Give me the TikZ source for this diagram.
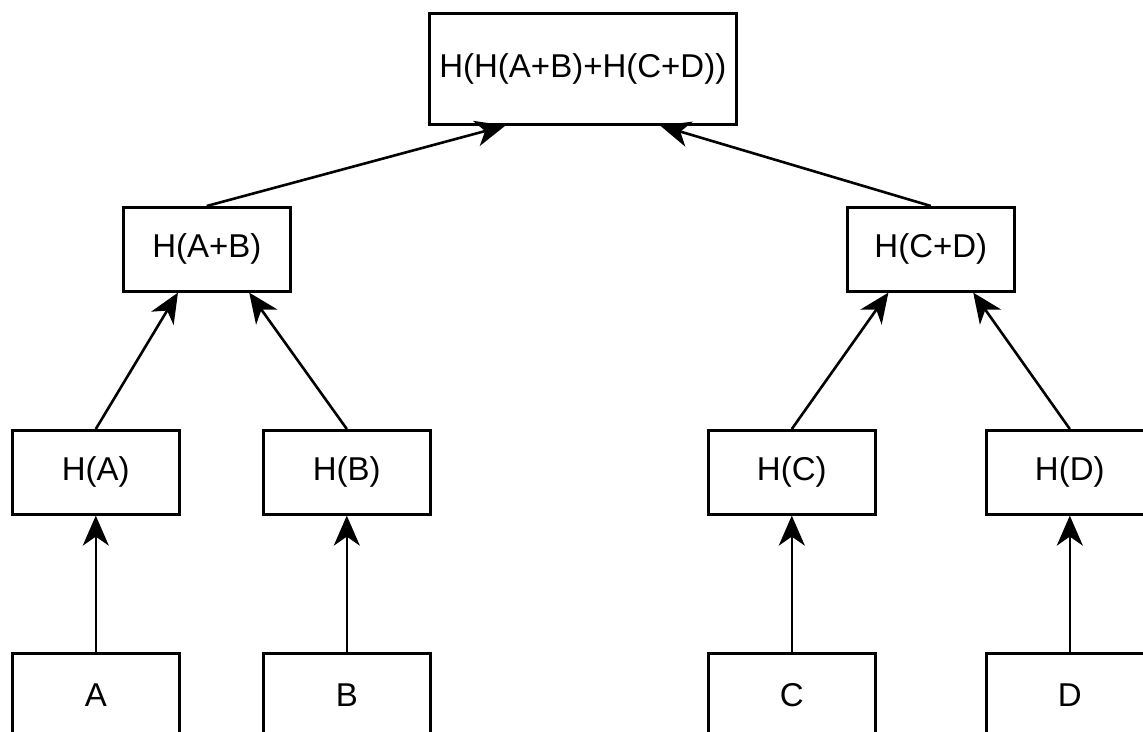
\documentclass[tikz,border=0pt]{standalone}
\usepackage{fontspec}
\setmainfont{Liberation Sans}
\usetikzlibrary{arrows.meta,calc}
\begin{document}
\begin{tikzpicture}[x=1pt,y=-1pt,
  hbox/.style={draw, line width=2.6pt, minimum width=167pt, minimum height=84pt, inner sep=0pt, font=\fontsize{33}{36}\selectfont, anchor=north west},
  conn/.style={line width=2.6pt, -{Stealth[length=30pt,width=26pt,inset=9pt]}}]
\clip (0,0) rectangle (1143,731);
\fill[white] (0,0) rectangle (1143,731);
\node[hbox, minimum width=307pt, minimum height=111pt] (top) at (428,12) {H(H(A+B)+H(C+D))};
\node[hbox] (hab) at (122,206) {H(A+B)};
\node[hbox] (hcd) at (846,206) {H(C+D)};
\node[hbox] (ha) at (11,429) {H(A)};
\node[hbox] (hb) at (262,429) {H(B)};
\node[hbox] (hc) at (707,429) {H(C)};
\node[hbox] (hd) at (985,429) {H(D)};
\node[hbox] (a) at (11,652) {A};
\node[hbox] (b) at (262,652) {B};
\node[hbox] (c) at (707,652) {C};
\node[hbox] (d) at (985,652) {D};
\draw[conn] (a.north) -- (ha.south);
\draw[conn] (b.north) -- (hb.south);
\draw[conn] (c.north) -- (hc.south);
\draw[conn] (d.north) -- (hd.south);
\draw[conn] (ha.north) -- ($(hab.south west)!0.33!(hab.south east)$);
\draw[conn] (hb.north) -- ($(hab.south west)!0.75!(hab.south east)$);
\draw[conn] (hc.north) -- ($(hcd.south west)!0.25!(hcd.south east)$);
\draw[conn] (hd.north) -- ($(hcd.south west)!0.75!(hcd.south east)$);
\draw[conn] (hab.north) -- ($(top.south west)!0.25!(top.south east)$);
\draw[conn] (hcd.north) -- ($(top.south west)!0.75!(top.south east)$);
\end{tikzpicture}
\end{document}
